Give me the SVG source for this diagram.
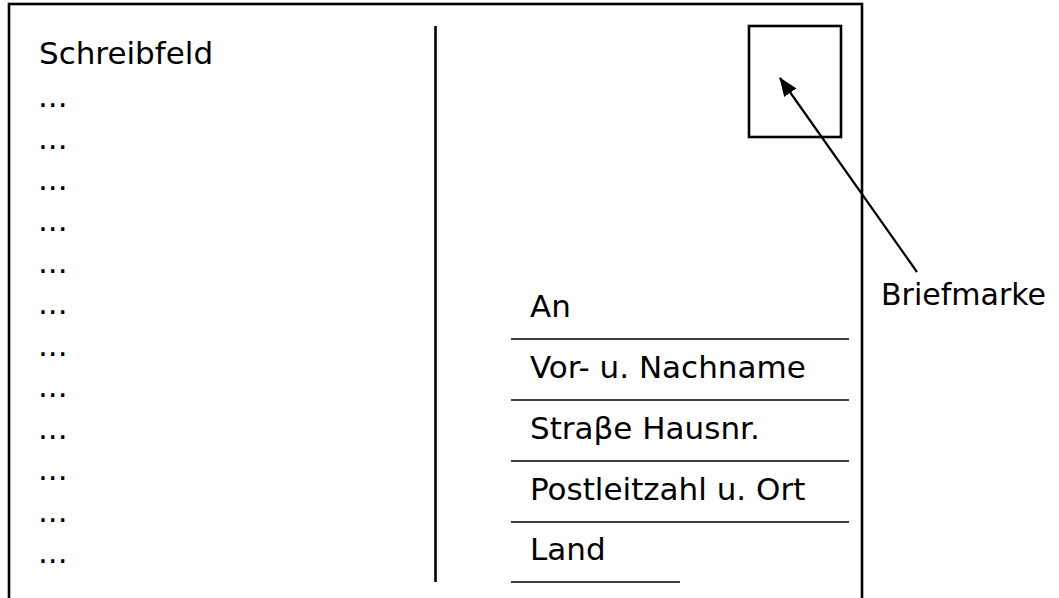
<svg xmlns="http://www.w3.org/2000/svg" width="1059" height="598" viewBox="0 0 1059 598">
<style>
  text { font-family: "DejaVu Sans", "Liberation Sans", sans-serif; font-size: 31px; fill: #000; }
  .frame { fill: none; stroke: #000; stroke-width: 2.6; }
  .rule { stroke: #000; stroke-width: 1.5; }
  .conn { stroke: #000; stroke-width: 2.2; fill: none; }
</style>
<defs>
  <marker id="arrow" markerUnits="userSpaceOnUse" markerWidth="20" markerHeight="16" refX="18" refY="7.5" orient="auto">
    <path d="M0,0 L19,7.5 L0,15 z" fill="#000"/>
  </marker>
</defs>
<rect width="1059" height="598" fill="#fff"/>
<g id="postcard">
  <rect class="frame" x="9" y="4" width="853" height="620"/>
  <line class="frame" x1="435.5" y1="26" x2="435.5" y2="582"/>
</g>
<g id="schreibfeld">
  <text x="39" y="64">Schreibfeld</text>
  <text x="38" y="107">...</text>
  <text x="38" y="148.5">...</text>
  <text x="38" y="190">...</text>
  <text x="38" y="231">...</text>
  <text x="38" y="273">...</text>
  <text x="38" y="314">...</text>
  <text x="38" y="356">...</text>
  <text x="38" y="397">...</text>
  <text x="38" y="439">...</text>
  <text x="38" y="480">...</text>
  <text x="38" y="521.5">...</text>
  <text x="38" y="563">...</text>
</g>
<g id="briefmarke-feld">
  <rect class="frame" x="749" y="26" width="92" height="111"/>
</g>
<g id="adresse">
  <text x="530" y="317">An</text>
  <line class="rule" x1="511" y1="339" x2="849" y2="339"/>
  <text x="530" y="378">Vor- u. Nachname</text>
  <line class="rule" x1="511" y1="400" x2="849" y2="400"/>
  <text x="530" y="439">Straβe Hausnr.</text>
  <line class="rule" x1="511" y1="461" x2="849" y2="461"/>
  <text x="530" y="500">Postleitzahl u. Ort</text>
  <line class="rule" x1="511" y1="522" x2="849" y2="522"/>
  <text x="530" y="560">Land</text>
  <line class="rule" x1="511" y1="582" x2="680" y2="582"/>
</g>
<g id="label-briefmarke">
  <text x="881" y="305" font-size="30" style="font-size:30px">Briefmarke</text>
</g>
<g id="connectors">
  <line class="conn" x1="917" y1="272" x2="780" y2="78" marker-end="url(#arrow)"/>
</g>
</svg>
